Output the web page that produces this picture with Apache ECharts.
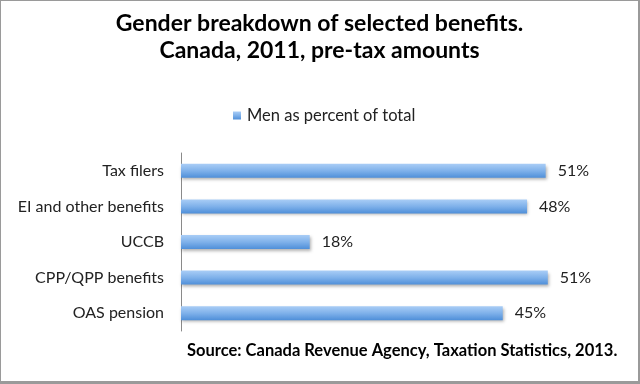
<!DOCTYPE html>
<html><head><meta charset="utf-8">
<script src="https://cdn.jsdelivr.net/npm/echarts@6/dist/echarts.min.js"></script>
<style>html,body{margin:0;padding:0;background:#fff}#c{width:640px;height:384px;box-sizing:border-box;border:1px solid #9a9a9a;border-right-width:2px;border-bottom-width:3px}</style>
</head><body><div id="c"></div>
<script>
var categories = ['Tax filers', 'EI and other benefits', 'UCCB', 'CPP/QPP benefits', 'OAS pension'];
var menPercent = [51.0, 48.4, 18.0, 51.3, 45.0];
var seriesName = 'Men as percent of total';
var FONT = 'Lato';
var chart = echarts.init(document.getElementById('c'));
var grad = new echarts.graphic.LinearGradient(0, 0, 0, 1, [
  {offset: 0, color: '#a9cdf6'}, {offset: 0.5, color: '#7fb1ea'}, {offset: 1, color: '#4f8fd9'}
]);
chart.setOption({
  animation: false,
  textStyle: {fontFamily: FONT},
  title: {
    text: 'Gender breakdown of selected benefits.\nCanada, 2011, pre-tax amounts',
    left: 'center', top: 4,
    textStyle: {fontFamily: FONT, fontSize: 23, fontWeight: 'bold', color: '#000', lineHeight: 27}
  },
  legend: {
    data: [{name: seriesName, icon: 'rect'}], left: 227, top: 101, itemWidth: 8, itemHeight: 8, itemGap: 4,
    textStyle: {fontFamily: FONT, fontSize: 16.5, color: '#222', padding: [0, 0, 0, 1]}
  },
  grid: {left: 180, right: 28, top: 152, bottom: 50, containLabel: false},
  xAxis: {type: 'value', min: 0, max: 60, show: false},
  yAxis: {
    type: 'category', data: categories, inverse: true,
    axisLine: {show: true, lineStyle: {color: '#8a8a8a', width: 1}},
    axisTick: {show: false},
    axisLabel: {fontFamily: FONT, fontSize: 16, color: '#222', margin: 17}
  },
  series: [{
    name: seriesName, type: 'bar', data: menPercent, barWidth: 14,
    itemStyle: {color: grad, shadowColor: 'rgba(0,0,0,0.3)', shadowBlur: 3, shadowOffsetY: 2, shadowOffsetX: 1},
    label: {show: true, position: 'right', distance: 12, fontFamily: FONT, fontSize: 16, color: '#222',
      formatter: function (p) { return Math.round(p.value) + '%'; }}
  }],
  graphic: [{
    type: 'text', x: 186, y: 350,
    style: {text: 'Source: Canada Revenue Agency, Taxation Statistics, 2013.', fontFamily: FONT, fontSize: 16.5, fontWeight: 'bold', fill: '#000', verticalAlign: 'middle'}
  }]
});
</script></body></html>
